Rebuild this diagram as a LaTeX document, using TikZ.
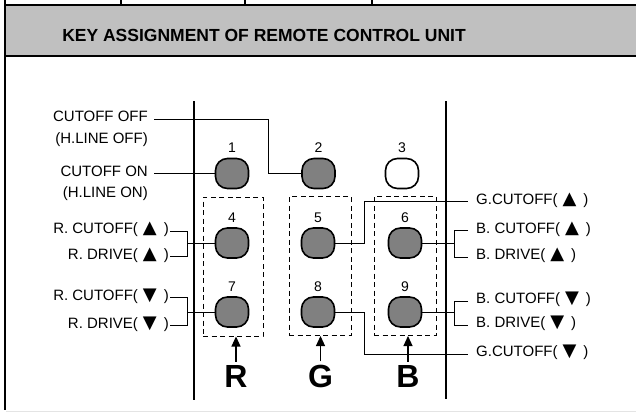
\documentclass[tikz,border=0pt]{standalone}
\usepackage{fontspec}
\setmainfont{Liberation Sans}
\newfontfamily\symfont{DejaVu Sans}
\usetikzlibrary{arrows.meta}

\definecolor{Cheadgray}{HTML}{C0C0C0}
\definecolor{Ckeygray}{HTML}{808080}
\definecolor{Cedgegray}{HTML}{E4E4E4}

\newcommand{\tup}{\hspace{5pt}{\symfont\fontsize{18}{18}\selectfont ▲}\hspace{7pt}}
\newcommand{\tdn}{\hspace{5pt}{\symfont\fontsize{18}{18}\selectfont ▼}\hspace{7pt}}

\tikzset{
	keybtn/.style={draw=black,line width=1.6pt,rounded corners=12pt,
		minimum width=33pt,minimum height=30pt,inner sep=0pt},
	keynum/.style={font=\fontsize{14}{16}\selectfont,anchor=base,inner sep=0pt},
	lbltxt/.style={font=\fontsize{15}{18}\selectfont,inner ysep=1pt},
	lblleft/.style={lbltxt,anchor=mid east,inner xsep=1pt},
	lblright/.style={lbltxt,anchor=mid west,inner xsep=8pt},
	grpbox/.style={draw=black,line width=1pt,dash pattern=on 5pt off 3.5pt,
		minimum height=139pt,inner sep=0pt},
	grptag/.style={font=\bfseries\fontsize{32}{36}\selectfont,anchor=base,inner sep=3pt},
	conn/.style={line width=0.9pt},
	tagarrow/.style={line width=1.1pt,-{Triangle[width=9pt,length=10pt]}},
}

\begin{document}
\begin{tikzpicture}[x=1pt,y=-1pt]
		\useasboundingbox (0,0) rectangle (636,412);
		% frame and header
		\fill[Cheadgray] (5,5) rectangle (636,56);
		\draw[line width=1.2pt] (5,5) -- (636,5) (5,56) -- (636,56);
		\draw[line width=1.2pt] (5,0) -- (5,410);
		\foreach \x in {121,245,372}{
				\draw[line width=1.2pt] (\x,0) -- (\x,5);}
		\draw[Cedgegray,line width=1pt] (6,411) -- (636,411);
		\node[font=\bfseries\fontsize{17.5}{20}\selectfont,anchor=base] (title)
		at (264,41.5) {KEY ASSIGNMENT OF REMOTE CONTROL UNIT};
		% unit edges
		\draw[line width=2.4pt] (194,101) -- (194,400);
		\draw[line width=2.4pt] (446,101) -- (446,399);
		% group boxes
		\node[grpbox,minimum width=60pt] (boxR) at (233,266.5) {};
		\node[grpbox,minimum width=62pt] (boxG) at (320,266) {};
		\node[grpbox,minimum width=62pt] (boxB) at (405,266) {};
		% keys
		\foreach \n/\x/\y/\c in {1/232/173.5/Ckeygray,2/318.5/173.5/Ckeygray,
				3/402/173.5/white,4/232/243/Ckeygray,5/318/243/Ckeygray,
				6/405/243/Ckeygray,7/232/312/Ckeygray,8/318/312/Ckeygray,
				9/405/312/Ckeygray}{
				\node[keybtn,fill=\c] (b\n) at (\x,\y) {};
				\node[keynum] (n\n) at (\x,\y-21) {\n};}
		% left labels
		\node[lblleft] (lOff) at (149,119) {CUTOFF OFF};
		\node[lblleft] (lOffH) at (149,141) {(H.LINE OFF)};
		\node[lblleft] (lOn) at (149,173.5) {CUTOFF ON};
		\node[lblleft] (lOnH) at (149,195) {(H.LINE ON)};
		\node[lblleft] (lRcu4) at (170,231) {R. CUTOFF(\tup)};
		\node[lblleft] (lRdr4) at (170,256.5) {R. DRIVE(\tup)};
		\node[lblleft] (lRcu7) at (170,297.5) {R. CUTOFF(\tdn)};
		\node[lblleft] (lRdr7) at (170,325.5) {R. DRIVE(\tdn)};
		% right labels
		\node[lblright] (lGcu5) at (468,201.5) {G.CUTOFF(\tup)};
		\node[lblright] (lBcu6) at (468,230.5) {B. CUTOFF(\tup)};
		\node[lblright] (lBdr6) at (468,257) {B. DRIVE(\tup)};
		\node[lblright] (lBcu9) at (468,301) {B. CUTOFF(\tdn)};
		\node[lblright] (lBdr9) at (468,325) {B. DRIVE(\tdn)};
		\node[lblright] (lGcd8) at (468,354) {G.CUTOFF(\tdn)};
		% connectors
		\draw[conn,shorten <=5pt] (lOff.mid east) -| ([xshift=-33pt]b2.west) -- (b2.west);
		\draw[conn,shorten <=5pt] (lOn.mid east) -- (lOn.mid east -| b1.west);
		\coordinate (jR4) at ([xshift=-27pt]b4.west);
		\coordinate (jR7) at ([xshift=-27pt]b7.west);
		\draw[conn] (lRcu4.mid east) -| (jR4) |- (lRdr4.mid east);
		\draw[conn] (jR4) -- (b4.west);
		\draw[conn] (lRcu7.mid east) -| (jR7) |- (lRdr7.mid east);
		\draw[conn] (jR7) -- (b7.west);
		\draw[conn] (b5.east) -- ++(29,0) |- (lGcu5.mid west);
		\draw[conn] (b8.east) -- ++(29,0) |- (lGcd8.mid west);
		\coordinate (jB6) at ([xshift=32pt]b6.east);
		\coordinate (jB9) at ([xshift=32pt]b9.east);
		\draw[conn] (lBcu6.mid west) -| (jB6) |- (lBdr6.mid west);
		\draw[conn] (b6.east) -- (jB6);
		\draw[conn] (lBcu9.mid west) -| (jB9) |- (lBdr9.mid west);
		\draw[conn] (b9.east) -- (jB9);
		% group tags
		\node[grptag] (tagR) at (236,387) {R};
		\node[grptag] (tagG) at (320.5,387) {G};
		\node[grptag] (tagB) at (408,387) {B};
		\draw[tagarrow] (tagR.north) -- (tagR.north |- boxR.south);
		\draw[tagarrow] (tagG.north) -- (tagG.north |- boxG.south);
		\draw[tagarrow] (tagB.north) -- (tagB.north |- boxB.south);
	\end{tikzpicture}
\end{document}
